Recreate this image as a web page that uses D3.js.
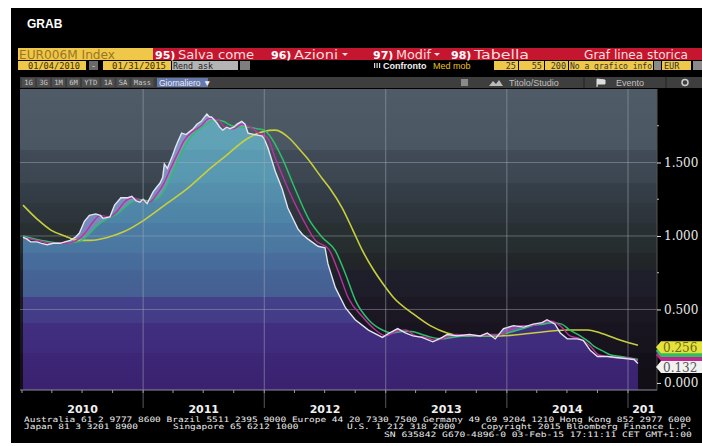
<!DOCTYPE html>
<html><head><meta charset="utf-8">
<script src="https://cdn.jsdelivr.net/npm/d3@7"></script>
<style>
html,body{margin:0;padding:0;background:#fff;}
svg{display:block;}
</style></head><body>
<svg id="c" width="702" height="446"></svg>
<script>
// ---------- DATA ----------
const price = [
["2010-01-04",0.99],["2010-01-15",0.98],["2010-01-27",0.96],["2010-02-15",0.96],["2010-03-01",0.95],
["2010-03-18",0.94],["2010-04-05",0.95],["2010-04-26",0.95],["2010-05-10",0.96],["2010-05-26",0.97],
["2010-06-10",0.99],["2010-06-23",1.02],["2010-07-08",1.10],["2010-07-23",1.14],["2010-08-11",1.15],
["2010-08-25",1.14],["2010-09-02",1.12],["2010-09-23",1.13],["2010-10-07",1.21],["2010-10-26",1.26],
["2010-11-16",1.26],["2010-11-28",1.27],["2010-12-10",1.24],["2010-12-22",1.23],["2011-01-01",1.25],
["2011-01-13",1.22],["2011-01-31",1.30],["2011-02-10",1.33],["2011-02-21",1.36],["2011-03-01",1.40],
["2011-03-06",1.49],["2011-03-15",1.46],["2011-03-31",1.55],["2011-04-08",1.60],["2011-04-15",1.64],
["2011-04-27",1.70],["2011-05-10",1.69],["2011-05-21",1.71],["2011-06-01",1.73],["2011-06-12",1.76],
["2011-06-25",1.78],["2011-07-05",1.81],["2011-07-12",1.83],["2011-07-20",1.81],["2011-07-26",1.81],
["2011-08-11",1.77],["2011-08-20",1.74],["2011-08-29",1.72],["2011-09-10",1.74],["2011-09-19",1.73],
["2011-10-01",1.74],["2011-10-10",1.76],["2011-10-25",1.78],["2011-11-04",1.76],["2011-11-13",1.70],
["2011-12-04",1.69],["2011-12-26",1.68],["2012-01-01",1.66],["2012-01-12",1.60],["2012-02-03",1.44],
["2012-02-24",1.32],["2012-03-12",1.19],["2012-04-11",1.05],["2012-04-25",1.01],["2012-05-11",0.98],
["2012-06-11",0.93],["2012-07-02",0.92],["2012-07-11",0.81],["2012-08-02",0.65],["2012-09-02",0.51],
["2012-10-01",0.43],["2012-11-10",0.36],["2012-12-22",0.31],["2013-01-05",0.33],["2013-01-20",0.35],
["2013-02-06",0.37],["2013-03-01",0.34],["2013-03-24",0.32],["2013-04-20",0.31],["2013-05-23",0.28],
["2013-06-20",0.31],["2013-07-05",0.33],["2013-08-04",0.32],["2013-09-10",0.33],["2013-10-13",0.32],
["2013-11-03",0.34],["2013-11-27",0.30],["2013-12-22",0.37],["2014-01-21",0.39],["2014-02-21",0.38],
["2014-03-21",0.40],["2014-04-17",0.41],["2014-05-02",0.43],["2014-05-26",0.40],["2014-06-11",0.34],
["2014-07-02",0.30],["2014-08-01",0.30],["2014-08-19",0.29],["2014-09-10",0.22],["2014-10-01",0.18],
["2014-11-01",0.18],["2014-12-10",0.17],["2015-01-19",0.16],["2015-01-31",0.132]
];
const ma25 = [
["2010-01-04",0.99],["2010-02-15",0.97],["2010-04-01",0.95],["2010-05-15",0.95],["2010-06-15",0.97],
["2010-07-10",1.02],["2010-08-01",1.09],["2010-08-25",1.14],["2010-09-20",1.13],["2010-10-15",1.17],
["2010-11-05",1.23],["2010-12-01",1.26],["2010-12-25",1.24],["2011-01-20",1.23],["2011-02-10",1.28],
["2011-03-05",1.36],["2011-03-25",1.46],["2011-04-15",1.56],["2011-05-05",1.65],["2011-05-30",1.71],
["2011-06-25",1.75],["2011-07-20",1.80],["2011-08-15",1.79],["2011-09-05",1.74],["2011-10-01",1.73],
["2011-10-25",1.76],["2011-11-20",1.74],["2011-12-15",1.70],["2012-01-10",1.67],["2012-02-03",1.53],
["2012-03-13",1.32],["2012-04-25",1.12],["2012-06-03",0.97],["2012-07-13",0.91],["2012-08-11",0.76],
["2012-09-10",0.58],["2012-10-23",0.45],["2012-12-01",0.36],["2013-01-01",0.32],["2013-02-01",0.35],
["2013-03-01",0.36],["2013-04-01",0.32],["2013-05-01",0.31],["2013-06-01",0.29],["2013-07-01",0.31],
["2013-08-01",0.33],["2013-10-01",0.32],["2013-11-15",0.33],["2013-12-15",0.33],["2014-01-15",0.37],
["2014-02-15",0.39],["2014-03-15",0.39],["2014-04-15",0.41],["2014-05-15",0.42],["2014-06-15",0.38],
["2014-07-10",0.32],["2014-08-10",0.30],["2014-09-10",0.25],["2014-10-05",0.19],["2014-11-01",0.18],
["2014-12-01",0.17],["2015-01-01",0.17],["2015-01-31",0.15]
];
const ma55 = [
["2010-01-04",1.00],["2010-03-01",0.97],["2010-05-01",0.95],["2010-06-20",0.96],["2010-07-20",1.01],
["2010-08-15",1.07],["2010-09-15",1.12],["2010-10-15",1.15],["2010-11-15",1.21],["2010-12-15",1.25],
["2011-01-15",1.24],["2011-02-15",1.26],["2011-03-10",1.33],["2011-04-01",1.44],["2011-04-25",1.56],
["2011-05-20",1.66],["2011-06-15",1.72],["2011-07-10",1.76],["2011-08-05",1.79],["2011-08-30",1.78],
["2011-09-25",1.75],["2011-10-20",1.74],["2011-11-15",1.74],["2011-12-10",1.73],["2012-01-01",1.72],
["2012-01-15",1.69],["2012-02-24",1.53],["2012-04-03",1.32],["2012-05-13",1.12],["2012-06-24",0.99],
["2012-08-02",0.90],["2012-09-02",0.74],["2012-10-02",0.56],["2012-11-10",0.43],["2012-12-22",0.36],
["2013-01-20",0.34],["2013-02-20",0.35],["2013-03-20",0.35],["2013-04-20",0.33],["2013-05-20",0.31],
["2013-06-20",0.30],["2013-07-20",0.31],["2013-09-01",0.32],["2013-11-01",0.32],["2013-12-15",0.33],
["2014-01-20",0.35],["2014-02-20",0.37],["2014-03-20",0.39],["2014-04-20",0.40],["2014-05-20",0.41],
["2014-06-15",0.40],["2014-07-10",0.36],["2014-08-10",0.32],["2014-09-05",0.28],["2014-09-20",0.25],
["2014-10-15",0.22],["2014-11-10",0.19],["2014-12-10",0.18],["2015-01-31",0.16]
];
const ma200 = [
["2010-01-04",1.21],["2010-02-18",1.11],["2010-03-29",1.04],["2010-05-10",1.00],["2010-06-18",0.97],
["2010-07-26",0.97],["2010-09-15",0.99],["2010-11-05",1.03],["2011-01-05",1.11],["2011-03-13",1.22],
["2011-05-13",1.32],["2011-07-12",1.44],["2011-09-10",1.55],["2011-11-09",1.66],["2011-12-29",1.71],
["2012-02-03",1.72],["2012-03-19",1.66],["2012-04-12",1.60],["2012-05-09",1.53],["2012-06-24",1.39],
["2012-07-18",1.32],["2012-08-23",1.19],["2012-09-26",1.03],["2012-10-23",0.90],["2012-11-25",0.77],
["2012-12-22",0.68],["2013-01-25",0.58],["2013-03-25",0.47],["2013-05-15",0.39],["2013-07-05",0.34],
["2013-08-23",0.32],["2013-12-13",0.32],["2014-03-21",0.34],["2014-07-02",0.36],["2014-09-01",0.36],
["2014-10-10",0.34],["2014-12-10",0.29],["2015-01-31",0.256]
];
const yTicks = [0, 0.5, 1.0, 1.5];
const yMinor = [0.25, 0.75, 1.25, 1.75];
const footer1 = "Australia 61 2 9777 8600 Brazil 5511 2395 9000 Europe 44 20 7330 7500 Germany 49 69 9204 1210 Hong Kong 852 2977 6000";
const footer2 = ["Japan 81 3 3201 8900", "Singapore 65 6212 1000", "U.S. 1 212 318 2000", "Copyright 2015 Bloomberg Finance L.P."];
const footer3 = "SN 635842 G670-4896-0 03-Feb-15 17:11:11 CET  GMT+1:00";
const tabs = ["1G","3G","1M","6M","YTD","1A","SA","Mass"];
const maPeriods = ["25","55","200"];

// ---------- SETUP ----------
const parse = d3.timeParse("%Y-%m-%d");
const toPts = a => a.map(([d, v]) => ({date: parse(d), v}));
const P = toPts(price), M25 = toPts(ma25), M55 = toPts(ma55), M200 = toPts(ma200);

const svg = d3.select("#c");
const L = 20, R = 657, T = 89, B = 390;
const x = d3.scaleTime().domain([new Date(2010,0,1), new Date(2015,0,1)]).range([22, 628]);
const y = d3.scaleLinear().domain([-0.048, 2.0]).range([B, T]);

svg.append("rect").attr("x",11).attr("y",8).attr("width",691).attr("height",435).attr("fill","#000");

const defs = svg.append("defs");
defs.append("clipPath").attr("id","plotClip").append("rect")
  .attr("x",L).attr("y",T).attr("width",R-L).attr("height",B-T);
defs.append("clipPath").attr("id","yearClip").append("rect")
  .attr("x",11).attr("y",390).attr("width",R-13).attr("height",30);

function banded(id, bands){
  const g = defs.append("linearGradient").attr("id",id)
    .attr("gradientUnits","userSpaceOnUse").attr("x1",0).attr("x2",0).attr("y1",T).attr("y2",B);
  bands.forEach((b,i)=>{
    const s = (b[0]-T)/(B-T), e = i<bands.length-1 ? (bands[i+1][0]-T)/(B-T) : 1;
    g.append("stop").attr("offset",Math.max(0,s)).attr("stop-color",b[1]);
    g.append("stop").attr("offset",e).attr("stop-color",b[2]||b[1]);
  });
}
banded("bgGrad",[[89,"#4f5b67","#4a5662"],[150,"#404b57","#3b4651"],[183,"#353f49","#323b44"],[203,"#2f373f","#2c333a"],
  [223,"#293032","#262d2f"],[253,"#232729","#212428"],[270,"#1f1f2b","#1d1d29"],[297,"#1c1925","#1a1723"],
  [323,"#181520","#16131d"],[353,"#141019","#110e16"]]);
banded("areaGrad",[[89,"#64a6b8","#5fa2b5"],[150,"#5a9bb2","#5897b0"],[183,"#5590ad","#538caa"],[203,"#5088a8","#4e84a6"],
  [223,"#4c7ca3","#4a76a0"],[253,"#486e9e","#476a9a"],[270,"#466497","#455f92"],[297,"#44418a","#433b86"],
  [323,"#412e7e","#3f2b7b"],[353,"#3d2676","#3a2270"]]);

const plot = svg.append("g").attr("clip-path","url(#plotClip)");
plot.append("rect").attr("x",L).attr("y",T).attr("width",R-L).attr("height",B-T).attr("fill","url(#bgGrad)");

const area = d3.area().x(d=>x(d.date)).y0(B).y1(d=>y(d.v));
plot.append("path").datum(P).attr("d",area).attr("fill","url(#areaGrad)");

defs.append("clipPath").attr("id","aboveMA").append("path").datum(M55)
  .attr("d", d3.area().x(d=>x(d.date)).y0(T).y1(d=>y(d.v)).curve(d3.curveMonotoneX));
plot.append("g").attr("clip-path","url(#aboveMA)").append("path").datum(P).attr("d",area)
  .attr("fill","#9a90d0").attr("opacity",0.55);

const years = x.ticks(d3.timeYear.every(1)).filter(d=>d.getFullYear()>2010);
plot.selectAll(".hg").data(yTicks.filter(v=>v>0)).join("line")
  .attr("x1",L).attr("x2",R).attr("y1",d=>y(d)).attr("y2",d=>y(d))
  .attr("stroke","#a8b0bc").attr("stroke-opacity",0.45).attr("stroke-width",1);
svg.selectAll(".vg").data(years).join("line")
  .attr("x1",d=>x(d)).attr("x2",d=>x(d)).attr("y1",T).attr("y2",408)
  .attr("stroke","#a8b0bc").attr("stroke-opacity",0.5).attr("stroke-width",1);

const line = d3.line().x(d=>x(d.date)).y(d=>y(d.v));
const sline = d3.line().x(d=>x(d.date)).y(d=>y(d.v)).curve(d3.curveMonotoneX);
plot.append("path").datum(M200).attr("d",sline).attr("fill","none").attr("stroke","#c8cf3c").attr("stroke-width",1.6);
plot.append("path").datum(M55).attr("d",sline).attr("fill","none").attr("stroke","#2fbf6c").attr("stroke-width",1.5);
plot.append("path").datum(M25).attr("d",sline).attr("fill","none").attr("stroke","#b8339e").attr("stroke-width",1.4);
plot.append("path").datum(P).attr("d",line).attr("fill","none").attr("stroke","#e4e4f2").attr("stroke-width",1.4);

// x axis
svg.append("line").attr("x1",L).attr("x2",R).attr("y1",B).attr("y2",B).attr("stroke","#8c8c9c");
const quarters = d3.timeMonth.every(3).range(new Date(2010,0,1), new Date(2015,2,1));
svg.selectAll(".qt").data(quarters).join("line")
  .attr("x1",d=>x(d)).attr("x2",d=>x(d)).attr("y1",B).attr("y2",B+3).attr("stroke","#9a9aa8");
const yearStarts = d3.timeYear.range(new Date(2010,0,1), new Date(2016,0,1));
svg.append("g").attr("clip-path","url(#yearClip)").selectAll("text").data(yearStarts).join("text")
  .attr("x", d => { const x0 = x(d), x1 = x(d3.timeYear.offset(d,1)); return x1 > R ? (x0+R)/2+5 : (x0+x1)/2; })
  .attr("y",413).attr("text-anchor","middle").attr("fill","#f0f0f0")
  .attr("font-family","DejaVu Sans").attr("font-weight","bold").attr("font-size",11)
  .text(d=>d.getFullYear());

// right axis
svg.append("line").attr("x1",R).attr("x2",R).attr("y1",T).attr("y2",B).attr("stroke","#555");
const ax = svg.append("g").attr("transform",`translate(${R},0)`)
  .call(d3.axisRight(y).tickValues(yTicks).tickFormat(d3.format(".3f")).tickSize(4).tickPadding(3));
ax.select(".domain").remove();
ax.selectAll("line").attr("stroke","#e0e0e0");
ax.selectAll("text").attr("fill","#e8e8e8").attr("font-family","DejaVu Serif").attr("font-size",12);
svg.selectAll(".mt").data(yMinor).join("line")
  .attr("x1",R).attr("x2",R+2).attr("y1",d=>y(d)).attr("y2",d=>y(d)).attr("stroke","#bbb");

function tag(cy, fill, txt, tcol){
  svg.append("path").attr("d",`M${R-1},${cy} L${R+4},${cy-6} L702,${cy-6} L702,${cy+6} L${R+4},${cy+6} Z`).attr("fill",fill);
  if (txt) svg.append("text").attr("x",R+6).attr("y",cy+4.5).attr("fill",tcol)
    .attr("font-family","DejaVu Serif").attr("font-size",12).text(txt);
}
const lastP = P[P.length-1].v, last200 = M200[M200.length-1].v;
const cyW = y(lastP)+3.5, cyY = y(last200)+2;
tag(cyW-12, "#c02890", null);
tag(cyW-16, "#30c060", null);
tag(cyW, "#f2f2f2", d3.format(".3f")(lastP), "#555");
tag(cyY, "#e6e23c", d3.format(".3f")(last200), "#6a6a12");

// ---------- HEADER ----------
const hf = "DejaVu Sans";
svg.append("text").attr("x",27).attr("y",27.5).attr("fill","#fff").attr("font-family","Liberation Sans")
  .attr("font-weight","bold").attr("font-size",12).text("GRAB");
svg.append("rect").attr("x",18).attr("y",48).attr("width",135).attr("height",12).attr("fill","#efc84a");
svg.append("text").attr("x",19).attr("y",58.5).attr("fill","#9a7624").attr("font-family",hf).attr("font-size",12)
  .attr("textLength",96).attr("lengthAdjust","spacingAndGlyphs").text("EUR006M Index");
svg.append("rect").attr("x",153).attr("y",48).attr("width",549).attr("height",12).attr("fill","#c4162e");
[[155,"95)","Salva come",76],[271,"96)","Azioni",44],[373,"97)","Modif",35],[451,"98)","Tabella",55]].forEach(([px,n,t,w])=>{
  svg.append("text").attr("x",px).attr("y",58.5).attr("fill","#fff").attr("font-family",hf).attr("font-weight","bold").attr("font-size",11).text(n);
  svg.append("text").attr("x",px+23).attr("y",58.5).attr("fill","#ffdede").attr("font-family",hf).attr("font-size",12.5)
    .attr("textLength",w).attr("lengthAdjust","spacingAndGlyphs").text(t);
});
[342,434].forEach(px=>svg.append("path").attr("d",`M${px},53 L${px+6},53 L${px+3},56 Z`).attr("fill","#ffdede"));
svg.append("text").attr("x",584).attr("y",58.5).attr("fill","#ffdede")
  .attr("font-family",hf).attr("font-size",12.5).attr("textLength",104).attr("lengthAdjust","spacingAndGlyphs").text("Graf linea storica");
// row 2
const r2 = 61, r2h = 9, f2 = 8.5;
function box(x0,w,fill){ svg.append("rect").attr("x",x0).attr("y",r2).attr("width",w).attr("height",r2h).attr("fill",fill); }
function t2(x0,t,col,len,anchor){ const e = svg.append("text").attr("x",x0).attr("y",r2+7.6).attr("fill",col)
  .attr("text-anchor",anchor||"start").attr("font-family","DejaVu Sans Mono").attr("font-size",f2).text(t);
  if (len) e.attr("textLength",len).attr("lengthAdjust","spacingAndGlyphs"); }
box(18,68,"#efc84a"); t2(28,"01/04/2010","#3a2e0c",52);
box(89,9,"#6a6a6a"); t2(91,"-","#ddd");
box(103,68,"#efc84a"); t2(112,"01/31/2015","#3a2e0c",54);
box(172,66,"#b4b4b4"); t2(173,"Rend ask","#222",40);
box(240,10,"#7e7e7e");
[374,376.5,379].forEach(px=>svg.append("rect").attr("x",px).attr("y",63).attr("width",1.2).attr("height",5).attr("fill","#ddd"));
svg.append("text").attr("x",383).attr("y",r2+7.6).attr("fill","#f0f0f0").attr("font-family","Liberation Sans").attr("font-weight","bold").attr("font-size",9).text("Confronto");
svg.append("text").attr("x",433).attr("y",r2+7.6).attr("fill","#e8c020").attr("font-family","Liberation Sans").attr("font-size",9).text("Med mob");
[[494,24],[519,25],[545,23]].forEach(([x0,w],i)=>{ box(x0,w,"#efc84a"); t2(x0+w-2,maPeriods[i],"#333",null,"end"); });
box(569,84,"#efc84a"); t2(570,"No a grafico info","#333",82);
box(654,7,"#8a8a8a");
box(662,29,"#efc84a"); t2(664,"EUR","#333");
box(693,9,"#8a8a8a");
// row 3
svg.append("rect").attr("x",20).attr("y",77).attr("width",682).attr("height",11).attr("fill","#3e3e3e");
let tx = 22;
tabs.forEach(t=>{
  const w = t.length*4.5 + 4;
  svg.append("rect").attr("x",tx).attr("y",78).attr("width",w).attr("height",9).attr("fill","#4e4e4e");
  svg.append("text").attr("x",tx+w/2).attr("y",85.3).attr("text-anchor","middle").attr("fill","#c8c8c8")
    .attr("font-family","DejaVu Sans Mono").attr("font-size",7.2).text(t);
  tx += w + 2;
});
svg.append("rect").attr("x",157).attr("y",78).attr("width",51).attr("height",9).attr("fill","#6677aa");
svg.append("text").attr("x",159).attr("y",85.5).attr("fill","#e6ecff").attr("font-family","Liberation Sans").attr("font-size",8.5).text("Giornaliero ▼");
svg.append("rect").attr("x",461).attr("y",79).attr("width",7).attr("height",7).attr("fill","#8a8a8a");
svg.append("path").attr("d","M489,86 L493,81 L496,84 L499,80 L503,86 Z").attr("fill","#bbb");
svg.append("text").attr("x",509).attr("y",85.8).attr("fill","#c0c0c0").attr("font-family","Liberation Sans").attr("font-size",9).text("Titolo/Studio");
svg.append("line").attr("x1",584).attr("x2",584).attr("y1",77).attr("y2",88).attr("stroke","#222");
svg.append("path").attr("d","M597,87 L597,79 L605,80 L605,84 L598,84").attr("fill","#ddd").attr("stroke","#ddd").attr("stroke-width",1);
svg.append("text").attr("x",616).attr("y",85.8).attr("fill","#c0c0c0").attr("font-family","Liberation Sans").attr("font-size",9).text("Evento");
svg.append("line").attr("x1",666).attr("x2",666).attr("y1",77).attr("y2",88).attr("stroke","#222");
svg.append("circle").attr("cx",685).attr("cy",82.5).attr("r",3).attr("fill","none").attr("stroke","#ccc").attr("stroke-width",1.5);

// ---------- FOOTER ----------
const ff = "DejaVu Sans Mono", fs = 7.4, cw = 5.7;
function ft(px, py, t){ svg.append("text").attr("x",px).attr("y",py).attr("fill","#ececec").attr("font-family",ff)
  .attr("font-size",fs).attr("textLength",t.length*cw).attr("lengthAdjust","spacingAndGlyphs").text(t); }
ft(24, 421.5, footer1);
[24,173,347,481].forEach((px,i)=>ft(px, 429.3, footer2[i]));
ft(384, 437.3, footer3);
</script>
</body></html>
